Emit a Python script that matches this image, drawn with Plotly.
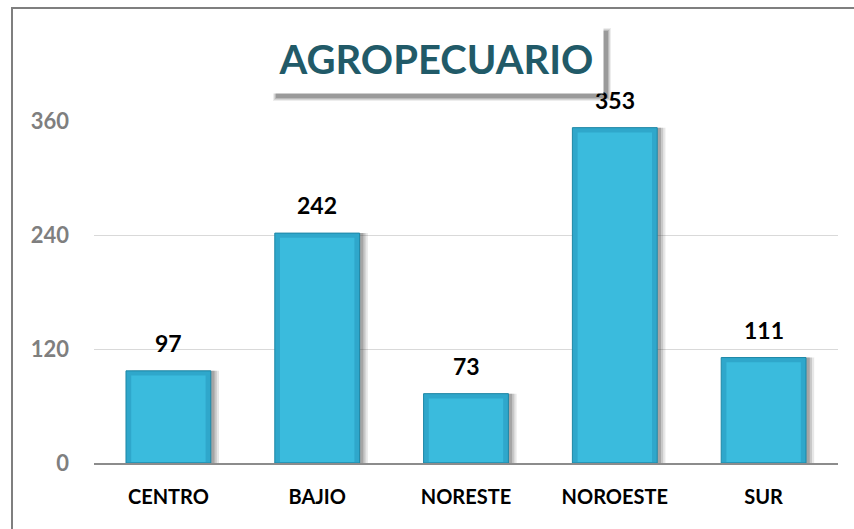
import plotly.graph_objects as go

regions = ['CENTRO', 'BAJIO', 'NORESTE', 'NOROESTE', 'SUR']
values = [97, 242, 73, 353, 111]
y_ticks = [0, 120, 240, 360]

W, H = 854, 529
left, right, top, bottom = 94, 16, 121, 66
plot_h = H - top - bottom
plot_w = W - left - right


def px_x(p):
    return (p - left) / plot_w


def px_y(p):
    return 1 - (p - top) / plot_h


fig = go.Figure()

# soft shadow to the right of each bar
for shift, alpha in [(0.055, 0.12), (0.04, 0.18), (0.025, 0.25)]:
    fig.add_trace(go.Bar(
        x=regions, y=values, width=0.57, offset=-0.285 + shift,
        marker=dict(color=f'rgba(60,60,60,{alpha})', line=dict(width=0)),
        hoverinfo='skip', showlegend=False,
    ))

# main bars
fig.add_trace(go.Bar(
    x=regions, y=values, width=0.57, offset=-0.285,
    marker=dict(color='#2FA7CB', line=dict(color='#1D87A6', width=1)),
    showlegend=False,
))

# lighter inner face for a bevelled look
fig.add_trace(go.Bar(
    x=regions, y=[v - 6 for v in values], base=1,
    width=0.5, offset=-0.25,
    marker=dict(color='#3ABBDD', line=dict(width=0)),
    hoverinfo='skip', showlegend=False,
))

annotations = []
for r, v in zip(regions, values):
    annotations.append(dict(
        x=r, y=v, text=f'<b>{v}</b>', showarrow=False, xanchor='center', yanchor='bottom',
        yshift=12, font=dict(family='Lato', size=23, color='#000000'),
    ))

# title in a white box
annotations.append(dict(
    text='<b>AGROPECUARIO</b>', x=px_x(436), y=px_y(58), xref='paper', yref='paper',
    xanchor='center', yanchor='middle', showarrow=False,
    font=dict(family='Lato', size=40, color='#215A68'),
    bgcolor='white', width=332, height=67,
))

shapes = [
    # chart frame
    dict(type='rect', xref='paper', yref='paper', layer='below',
         x0=px_x(12), x1=1.1, y0=-0.3, y1=px_y(8),
         line=dict(color='#7f7f7f', width=2)),
]
# blurred shadow under the title box
for grow, alpha in [(3, 0.10), (2, 0.15), (1, 0.2), (0, 0.3)]:
    shapes.append(dict(
        type='rect', xref='paper', yref='paper', layer='above',
        x0=px_x(276 - grow), x1=px_x(608 + grow), y0=px_y(98 + grow), y1=px_y(31 - grow),
        fillcolor=f'rgba(80,80,80,{alpha})', line=dict(width=0),
    ))

fig.update_layout(
    width=W, height=H,
    barmode='overlay',
    paper_bgcolor='white', plot_bgcolor='white',
    margin=dict(l=left, r=right, t=top, b=bottom),
    font=dict(family='Lato'),
    xaxis=dict(
        showgrid=False, showline=True, linecolor='#8c8c8c', linewidth=1.5,
        tickfont=dict(family='Lato', size=20, color='#000000', weight='bold'),
        ticks='', ticklabelstandoff=15,
    ),
    yaxis=dict(
        range=[0, 360], tickvals=y_ticks, showline=False, zeroline=False,
        gridcolor='#d9d9d9', gridwidth=1,
        tickfont=dict(family='Lato', size=22, color='#7f7f7f', weight='bold'),
        ticklabelstandoff=24,
    ),
    shapes=shapes,
    annotations=annotations,
)

fig.write_html("out.html", config={'displayModeBar': False},
               post_script="document.body.style.margin='0px';")
